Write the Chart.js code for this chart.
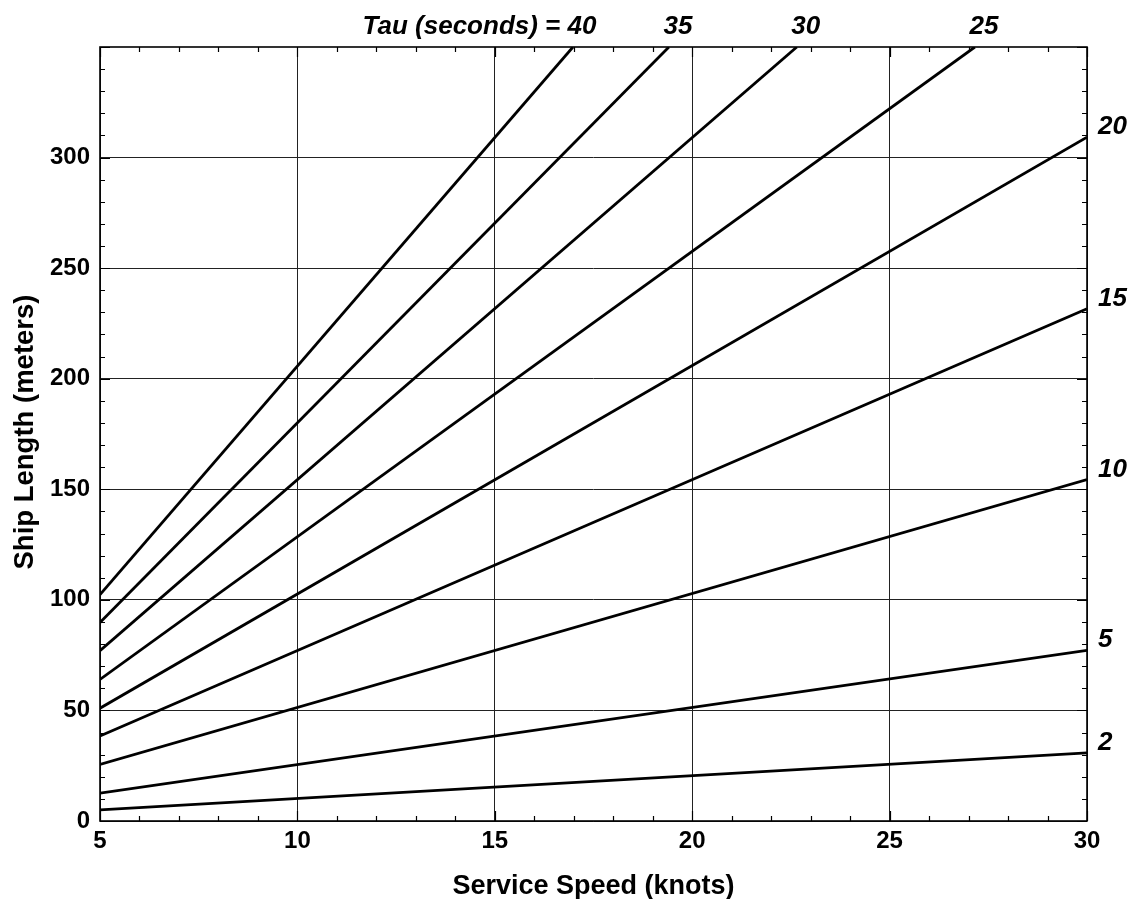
<!DOCTYPE html>
<html>
<head>
<meta charset="utf-8">
<script src="https://cdn.jsdelivr.net/npm/chart.js@4.4.1/dist/chart.umd.min.js"></script>
<style>
  html, body { margin: 0; padding: 0; background: #fff; }
  #wrap { width: 1133px; height: 899px; position: relative; }
</style>
</head>
<body>
<div id="wrap"><canvas id="c" width="1133" height="899"></canvas></div>
<script>
// ---- data ----
const tauSeconds   = [2, 5, 10, 15, 20, 25, 30, 35, 40];
const startSpeed   = [5, 5, 5, 5, 5, 5, 5, 5, 5];
const startLength  = [5.0, 12.6, 25.6, 38.4, 51.0, 64.0, 77.0, 89.8, 102.4];
const endSpeed     = [30, 30, 30, 30, 30, 27.16, 22.65, 19.41, 16.98];
const endLength    = [30.8, 77.2, 154.4, 231.6, 309.2, 350, 350, 350, 350];
const xTickValues  = [5, 10, 15, 20, 25, 30];
const yTickValues  = [0, 50, 100, 150, 200, 250, 300];
const xTitle = 'Service Speed (knots)';
const yTitle = 'Ship Length (meters)';
const tauPrefix = 'Tau (seconds) = ';

const FONT = '"Liberation Sans", Arial, Helvetica, sans-serif';

const datasets = tauSeconds.map((t, i) => ({
  label: String(t),
  data: [{x: startSpeed[i], y: startLength[i]}, {x: endSpeed[i], y: endLength[i]}],
  borderColor: '#000',
  borderWidth: 2.8,
  pointRadius: 0,
  fill: false,
  tension: 0
}));

const decorPlugin = {
  id: 'decor',
  afterDraw(chart) {
    const ctx = chart.ctx;
    const a = chart.chartArea;
    const xs = chart.scales.x, ys = chart.scales.y;
    ctx.save();
    // frame
    ctx.strokeStyle = '#000';
    ctx.lineWidth = 1.6;
    ctx.strokeRect(a.left, a.top, a.right - a.left, a.bottom - a.top);
    // ticks (inward)
    ctx.lineWidth = 1.2;
    ctx.beginPath();
    for (let v = xs.min; v <= xs.max + 1e-9; v += 1) {
      const px = Math.round(xs.getPixelForValue(v)) + 0.5;
      const len = (v % 5 === 0) ? 10 : 5;
      ctx.moveTo(px, a.bottom); ctx.lineTo(px, a.bottom - len);
      ctx.moveTo(px, a.top); ctx.lineTo(px, a.top + len);
    }
    for (let v = ys.min; v <= ys.max + 1e-9; v += 10) {
      const py = Math.round(ys.getPixelForValue(v)) + 0.5;
      const len = (v % 50 === 0) ? 10 : 5;
      ctx.moveTo(a.left, py); ctx.lineTo(a.left + len, py);
      ctx.moveTo(a.right, py); ctx.lineTo(a.right - len, py);
    }
    ctx.stroke();

    // axis titles
    ctx.fillStyle = '#000';
    ctx.textAlign = 'center';
    ctx.textBaseline = 'middle';
    ctx.font = 'bold 27px ' + FONT;
    ctx.fillText(xTitle, (a.left + a.right) / 2, 887);
    ctx.save();
    ctx.font = 'bold 27.5px ' + FONT;
    ctx.translate(25, 432);
    ctx.rotate(-Math.PI / 2);
    ctx.fillText(yTitle, 0, 0);
    ctx.restore();

    // series labels
    ctx.font = 'italic bold 26px ' + FONT;
    chart.data.datasets.forEach((ds, i) => {
      const last = ds.data[ds.data.length - 1];
      if (last.y >= ys.max - 1e-6) {
        const px = xs.getPixelForValue(last.x) + 9;
        ctx.textAlign = 'center';
        ctx.fillText(ds.label, px, 27);
        if (i === chart.data.datasets.length - 1) {
          const w = ctx.measureText(ds.label).width;
          ctx.textAlign = 'right';
          ctx.fillText(tauPrefix, px - w / 2, 27);
        }
      } else {
        const py = ys.getPixelForValue(last.y) - 10;
        ctx.textAlign = 'left';
        ctx.fillText(ds.label, a.right + 11, py);
      }
    });
    ctx.restore();
  }
};

new Chart(document.getElementById('c'), {
  type: 'line',
  data: { datasets },
  options: {
    responsive: false,
    animation: false,
    events: [],
    layout: { padding: { left: 10, right: 46, top: 47, bottom: 0 } },
    plugins: { legend: { display: false }, tooltip: { enabled: false }, title: { display: false } },
    scales: {
      x: {
        type: 'linear', min: 5, max: 30,
        afterBuildTicks: s => { s.ticks = xTickValues.map(v => ({value: v})); },
        afterFit: s => { s.height = 78; },
        grid: { color: '#222', lineWidth: 1, drawTicks: false },
        border: { display: false },
        ticks: { color: '#000', padding: 6, font: { family: FONT, size: 24, weight: 'bold' }, maxRotation: 0 }
      },
      y: {
        type: 'linear', min: 0, max: 350,
        afterBuildTicks: s => { s.ticks = yTickValues.map(v => ({value: v})); },
        afterFit: s => { s.width = 90; },
        grid: { color: '#222', lineWidth: 1, drawTicks: false },
        border: { display: false },
        ticks: { color: '#000', padding: 10, font: { family: FONT, size: 24, weight: 'bold' } }
      }
    }
  },
  plugins: [decorPlugin]
});
</script>
</body>
</html>
